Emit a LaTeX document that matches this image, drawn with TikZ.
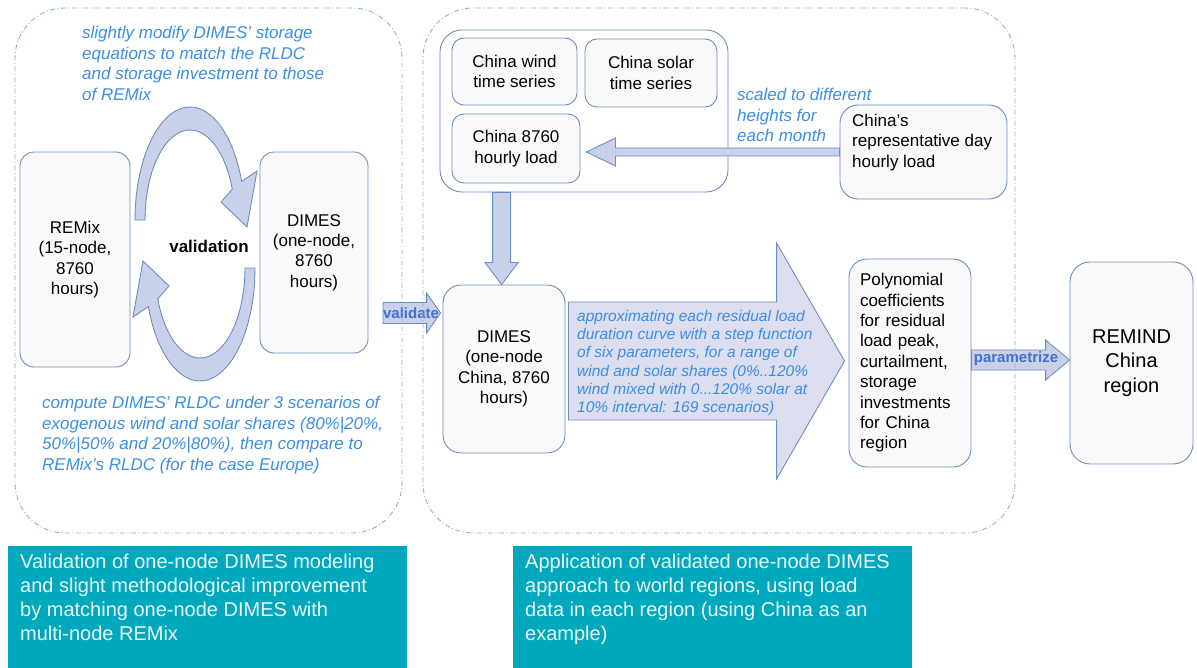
\documentclass[tikz,border=0pt]{standalone}
\usepackage{fontspec}
\setmainfont{Liberation Sans}
\usetikzlibrary{calc}
\definecolor{nodeblue}{RGB}{108,142,191}
\definecolor{nodefill}{RGB}{249,249,249}
\definecolor{arrfill}{RGB}{201,208,233}
\definecolor{bigfill}{RGB}{220,222,239}
\definecolor{dashblue}{RGB}{143,176,214}
\definecolor{ital}{RGB}{58,142,228}
\definecolor{lblblue}{RGB}{66,112,208}
\definecolor{tealc}{RGB}{0,168,189}
\definecolor{tealtext}{RGB}{238,248,250}
\newcommand\blockarr[6]{%
  \coordinate (tmpH) at ($(#3)!#6!(#2)$);
  \draw[#1] ($(#2)!#4!90:(#3)$) -- ($(tmpH)!#4!90:(#3)$) -- ($(tmpH)!#5!90:(#3)$) -- (#3)
    -- ($(tmpH)!#5!-90:(#3)$) -- ($(tmpH)!#4!-90:(#3)$) -- ($(#2)!#4!-90:(#3)$) -- cycle;}
\begin{document}
\begin{tikzpicture}[x=1pt,y=-1pt,
 box/.style={draw=nodeblue, fill=nodefill, line width=0.9pt, rounded corners=14pt, inner sep=0pt,
   font=\fontsize{17}{20.4}\selectfont, align=center},
 itxt/.style={font=\fontsize{17}{20.6}\selectfont\itshape, text=ital, inner sep=0pt, anchor=north west, align=left},
 plain/.style={font=\fontsize{17}{20.4}\selectfont, inner sep=0pt, anchor=north west, align=left},
 blk/.style={draw=nodeblue, fill=arrfill, line width=0.9pt, line join=miter},
 cont/.style={draw=dashblue, line width=0.9pt, dash pattern=on 5pt off 2.5pt on 1pt off 2.5pt, rounded corners=50pt, inner sep=0pt},
 lbl/.style={font=\fontsize{15}{18}\selectfont\bfseries, text=lblblue, inner sep=0pt},
 tealbox/.style={fill=tealc, inner sep=0pt, anchor=north west},
 tealtxt/.style={font=\fontsize{20}{24}\selectfont, text=tealtext, inner sep=0pt, anchor=north west, align=left}
]
\useasboundingbox (0,0) rectangle (1197,668);

% ---------- left part ----------
\node[box, minimum width=110pt, minimum height=215pt] (remix) at (75,259.5) {REMix\\(15-node,\\8760\\hours)};
\node[box, minimum width=108pt, minimum height=201pt] (dimesL) at (314,252.5) {DIMES\\(one-node,\\8760\\hours)};
\node[font=\fontsize{17}{20}\selectfont\bfseries, inner sep=0pt] (valid) at (209,246) {validation};

% curved arrows
\draw[blk] plot[domain=180:20,samples=40] ({190+55*cos(\x)},{220-113*sin(\x)})
  -- (257,171) -- (247,227) -- (221,202)
  -- plot[domain=20:180,samples=40] ({190+45*cos(\x)},{220-90*sin(\x)}) -- cycle;
\begin{scope}[rotate around={180:(195,244)}]
\draw[blk] plot[domain=180:20,samples=40] ({190+55*cos(\x)},{220-113*sin(\x)})
  -- (257,171) -- (247,227) -- (221,202)
  -- plot[domain=20:180,samples=40] ({190+45*cos(\x)},{220-90*sin(\x)}) -- cycle;
\end{scope}

\node[itxt] (toptxt) at (82,26) {slightly modify DIMES’ storage\\equations to match the RLDC\\and storage investment to those\\of REMix};
\node[itxt] (bottxt) at (42,396) {compute DIMES’ RLDC under 3 scenarios of\\exogenous wind and solar shares (80\%|20\%,\\50\%|50\% and 20\%|80\%), then compare to\\REMix’s RLDC (for the case Europe)};

% ---------- right part ----------
\node[box, fill=white, rounded corners=22pt, minimum width=288pt, minimum height=162pt] (group) at (584,111) {};
\node[box, rounded corners=12pt, minimum width=125pt, minimum height=67pt] (wind) at (514.5,71.5) {China wind\\time series};
\node[box, rounded corners=12pt, minimum width=132pt, minimum height=68pt] (solar) at (651,73) {China solar\\time series};
\node[box, rounded corners=12pt, minimum width=128pt, minimum height=69pt] (load) at (516,148.5) {China 8760\\hourly load};
\node[box, rounded corners=18pt, minimum width=167pt, minimum height=94pt] (rep) at (923.5,152) {};
\node[plain] (reptxt) at (852,114) {China’s\\representative day\\hourly load};
\node[itxt] (scaled) at (737,88) {scaled to different\\heights for\\each month};

\node[box, rounded corners=18pt, minimum width=122pt, minimum height=168pt] (dimesC) at (504,369) {DIMES\\(one-node\\China, 8760\\hours)};
\node[box, rounded corners=18pt, minimum width=122pt, minimum height=208pt, text width=100pt, align=left] (poly) at (910,363)
  {Polynomial\\coefficients\\for residual\\load peak,\\curtailment,\\storage\\investments\\for China\\region};
\node[box, rounded corners=20pt, minimum width=123pt, minimum height=202pt, font=\fontsize{20}{24.5}\selectfont] (remind) at (1131.5,363) {REMIND\\China\\region};

% block arrows
\coordinate (vaS) at (383,313);
\coordinate (vaT) at ($(dimesC.west |- vaS)+(-2,0)$);
\blockarr{blk}{vaS}{vaT}{10.5pt}{20pt}{14pt}
\node[lbl] (valabel) at (411,313) {validate};

\coordinate (dnS) at ($(group.south west)+(62,0)$);
\coordinate (dnT) at (dnS |- dimesC.north);
\blockarr{blk}{dnS}{dnT}{9pt}{16.5pt}{22pt}

\coordinate (lfT) at ($(load.east |- rep.west)+(6,0)$);
\blockarr{blk}{rep.west}{lfT}{4pt}{14pt}{29pt}

\coordinate (bgS) at ($(dimesC.east)+(3,-8)$);
\coordinate (bgT) at ($(poly.west |- bgS)+(-4,0)$);
\blockarr{blk,fill=bigfill}{bgS}{bgT}{59pt}{118pt}{68pt}
\node[font=\fontsize{15.5}{18.2}\selectfont\itshape, text=ital, inner sep=0pt, anchor=north west, align=left] (bigtxt) at (577,310)
  {approximating each residual load\\duration curve with a step function\\of six parameters, for a range of\\wind and solar shares (0\%..120\%\\wind mixed with 0...120\% solar at\\10\% interval: 169 scenarios)};

\coordinate (paS) at ($(poly.east)+(0,-3)$);
\coordinate (paT) at (remind.west |- paS);
\blockarr{blk}{paS}{paT}{10pt}{20pt}{24pt}
\node[lbl] (palabel) at (1016,359) {parametrize};

% containers
\node[cont, minimum width=387pt, minimum height=525pt] (leftbox) at (208.5,270.5) {};
\node[cont, minimum width=592pt, minimum height=525pt] (rightbox) at (719,270.5) {};

% teal captions
\node[tealbox, minimum width=399pt, minimum height=122pt] (capL) at (8,546) {};
\node[tealtxt] (capLtxt) at (20,554) {Validation of one-node DIMES modeling\\and slight methodological improvement\\by matching one-node DIMES with\\multi-node REMix};
\node[tealbox, minimum width=399pt, minimum height=122pt] (capR) at (513,546) {};
\node[tealtxt] (capRtxt) at (525,554) {Application of validated one-node DIMES\\approach to world regions, using load\\data in each region (using China as an\\example)};
\end{tikzpicture}
\end{document}
